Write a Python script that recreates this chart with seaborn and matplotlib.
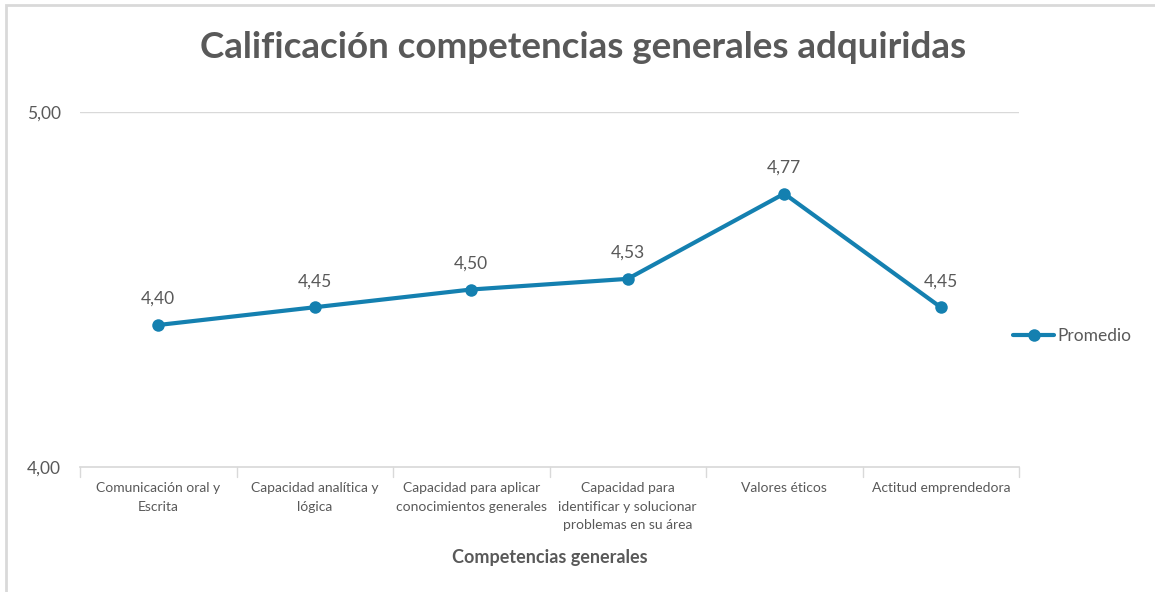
import matplotlib
matplotlib.use("Agg")
import matplotlib.pyplot as plt
import pandas as pd
import seaborn as sns

categorias = [
    "Comunicación oral y\nEscrita",
    "Capacidad analítica y\nlógica",
    "Capacidad para aplicar\nconocimientos generales",
    "Capacidad para\nidentificar y solucionar\nproblemas en su área",
    "Valores éticos",
    "Actitud emprendedora",
]
promedio = [4.40, 4.45, 4.50, 4.53, 4.77, 4.45]
y_ticks = [4.0, 5.0]


def fmt(v):
    return f"{v:.2f}".replace(".", ",")


def main():
    sns.set_theme(style="white")
    plt.rcParams["font.family"] = ["Lato", "DejaVu Sans"]
    gris = "#595959"
    azul = "#1480b0"

    df = pd.DataFrame({"pos": range(len(categorias)), "valor": promedio, "serie": "Promedio"})

    fig = plt.figure(figsize=(11.55, 5.92), dpi=100)
    ax = fig.add_axes([80 / 1155, 1 - 467 / 592, (1019 - 80) / 1155, (467 - 112) / 592])

    sns.lineplot(data=df, x="pos", y="valor", hue="serie", palette=[azul], marker="o",
                 markersize=9, markeredgewidth=0, linewidth=3, ax=ax)

    for x, v in zip(df["pos"], df["valor"]):
        ax.annotate(fmt(v), (x, v), xytext=(0, 13), textcoords="offset points",
                    ha="center", va="bottom", fontsize=12.5, color=gris)

    ax.set_xlim(-0.5, len(categorias) - 0.5)
    ax.set_ylim(4.0, 5.0)
    ax.set_yticks(y_ticks)
    ax.set_yticklabels([fmt(t) for t in y_ticks], fontsize=12.5, color=gris)
    ax.set_xticks(range(len(categorias)))
    ax.set_xticklabels(categorias, fontsize=10, color=gris, linespacing=1.65)
    ax.tick_params(axis="x", length=0, pad=11)
    ax.tick_params(axis="y", length=0, pad=14)
    # divisiones entre categorias
    for b in [i - 0.5 for i in range(len(categorias) + 1)]:
        ax.plot([b, b], [4.0, 3.972], color="#d9d9d9", lw=1, clip_on=False)
    ax.axhline(5.0, color="#d9d9d9", lw=1)
    for s in ["top", "right", "left"]:
        ax.spines[s].set_visible(False)
    ax.spines["bottom"].set_color("#d9d9d9")

    ax.set_xlabel("Competencias generales", fontsize=13, color=gris, fontweight="bold", labelpad=13)
    ax.set_ylabel("")
    fig.suptitle("Calificación competencias generales adquiridas", x=583 / 1155, y=1 - 31 / 592,
                 va="top", fontsize=26.5, fontweight="bold", color=gris)

    ax.legend(loc="center left", bbox_to_anchor=(0.986, 0.37), frameon=False,
              fontsize=12.5, labelcolor=gris, handlelength=2.4, handletextpad=0.15,
              borderaxespad=0)

    # marco del grafico
    fig.add_artist(plt.Rectangle((6 / 1155, -0.01), 1.2, 1 - 5 / 592 + 0.01, fill=False,
                                 edgecolor="#d9d9d9", lw=2, transform=fig.transFigure))

    fig.savefig("out.png", dpi=100)
    plt.close(fig)


if __name__ == "__main__":
    main()
